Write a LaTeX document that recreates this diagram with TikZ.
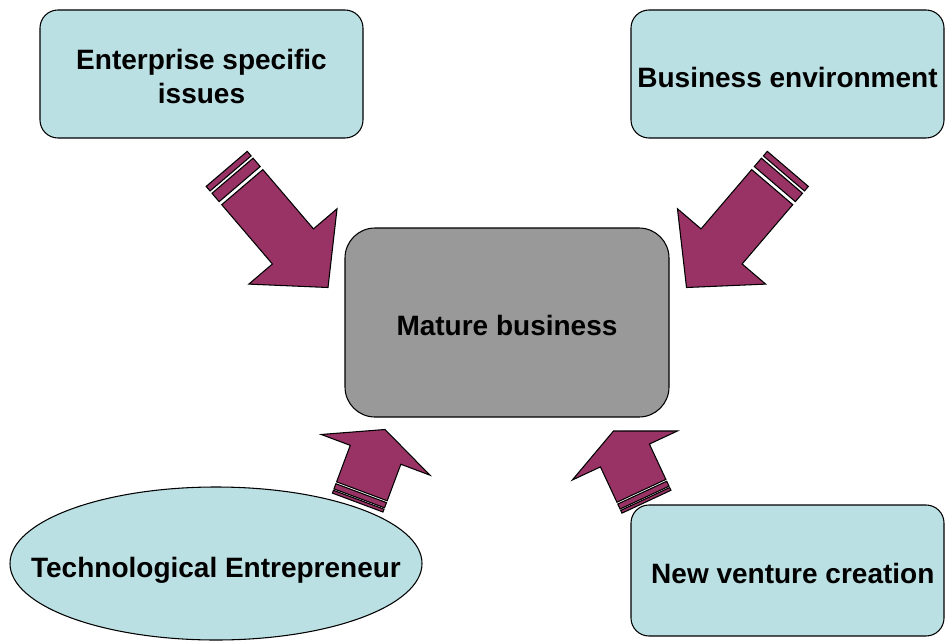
\documentclass[tikz,border=0pt]{standalone}
\usepackage{fontspec}
\setmainfont{Liberation Sans}
\usetikzlibrary{shapes.geometric}

\definecolor{paleteal}{HTML}{BBE0E3}
\definecolor{plum}{HTML}{993366}
\definecolor{midgray}{HTML}{999999}

% lower a text a little without moving its box
\newcommand{\lowertext}[2][2.5pt]{\raisebox{-#1}[\height][\depth]{#2}}

\begin{document}
\begin{tikzpicture}[
    x=0.75pt, y=-0.75pt,
    label font/.style={font=\fontsize{21}{25.5}\selectfont\bfseries},
    block/.style={rectangle, rounded corners=13.5pt, draw=black, line width=0.8pt, fill=paleteal, inner sep=0pt, align=center, label font},
    core/.style={block, fill=midgray, rounded corners=22.5pt},
    oval/.style={ellipse, draw=black, line width=0.8pt, fill=paleteal, inner sep=0pt},
    stripebody/.style={draw=black, line width=0.8pt, fill=plum, line join=miter},
    pics/stripearrow/.style={code={
        \draw[stripebody] (0,0) -- (-54,58) -- (-54,27) -- (-132,27) -- (-132,-27) -- (-54,-27) -- (-54,-58) -- cycle;
        \draw[stripebody] (-136,27) rectangle (-147,-27);
        \draw[stripebody] (-150,27) rectangle (-156,-27);
    }}
]
\clip (0,0) rectangle (945,642);

\node[block, minimum width=242.25pt, minimum height=96pt] (enterprise) at (201.5,74) {\lowertext[4pt]{\begin{tabular}{@{}c@{}}Enterprise specific\\issues\end{tabular}}};
\node[block, minimum width=234.75pt, minimum height=96pt] (environment) at (787.5,74) {\lowertext{Business environment}};
\node[core, minimum width=243pt, minimum height=141.75pt] (mature) at (507,322.5) {\lowertext{Mature business}};
\node[oval, minimum width=309pt, minimum height=114.75pt, label={[label font, yshift=-5pt]center:Technological Entrepreneur}] (tech) at (216,563.5) {};
\node[block, minimum width=234.75pt, minimum height=98.25pt] (venture) at (787.5,570.5) {\hspace{8pt}\lowertext{New venture creation}};

% striped arrows pointing at the core block
\pic[rotate=-49.5] at (328,287.5) {stripearrow};
\pic[rotate=-130.5] at (686.5,287.5) {stripearrow};
\pic[rotate=69.5, xscale=0.5] at (385,429.5) {stripearrow};
\pic[rotate=115, xscale=0.5] at (613.5,431) {stripearrow};
\end{tikzpicture}
\end{document}
